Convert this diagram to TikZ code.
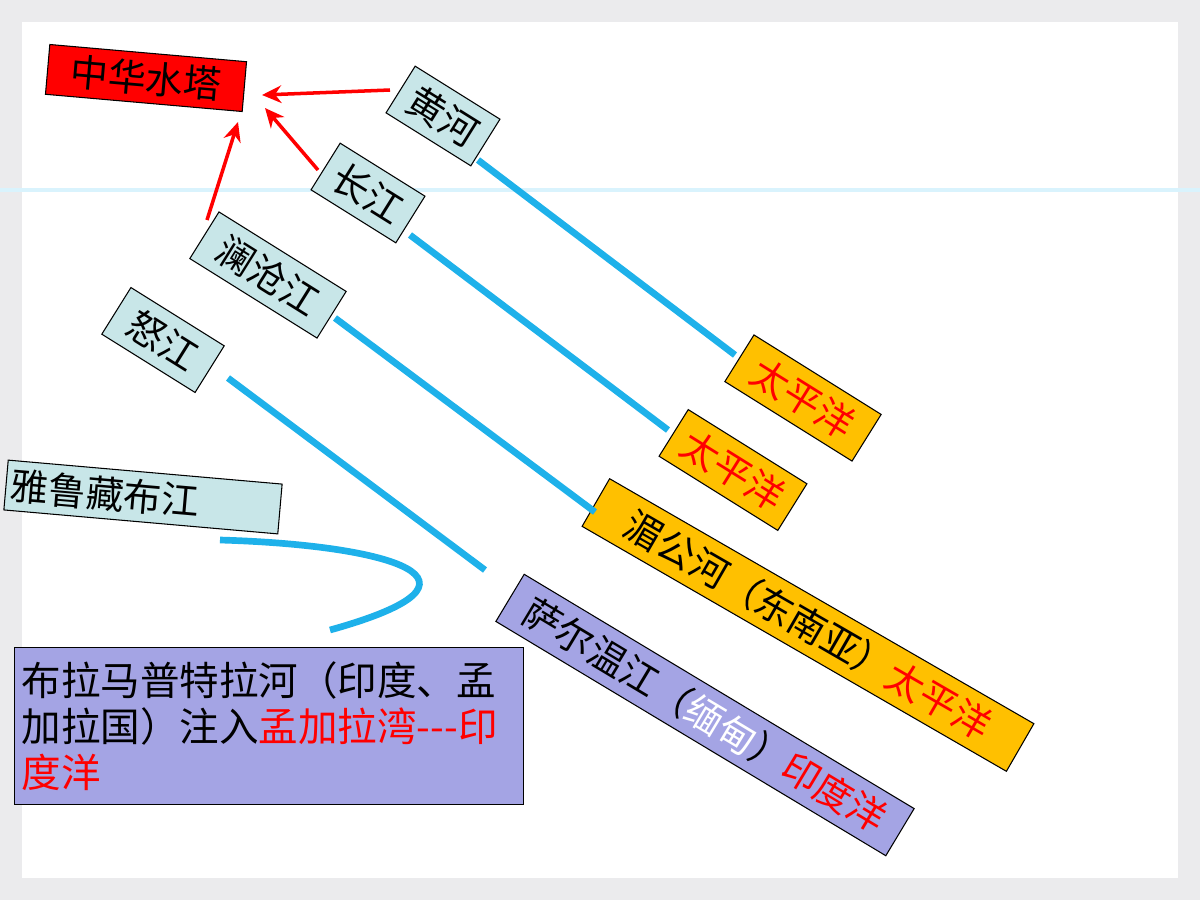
\documentclass[tikz,border=0pt]{standalone}
\usetikzlibrary{arrows.meta}
\usepackage{fontspec}
\newfontfamily\cjk{Noto Sans CJK SC}
\definecolor{riv}{HTML}{1EB1EA}
\definecolor{lc}{HTML}{C8E6E8}
\definecolor{lav}{HTML}{A4A4E4}
\definecolor{org}{HTML}{FFC000}
\begin{document}
\begin{tikzpicture}[x=0.02cm,y=-0.02cm,
  bb/.style={draw=black,line width=0.6pt,fill=lc,font=\cjk\fontsize{21.5}{24}\selectfont,minimum height=1.1cm,inner sep=1pt},
  rb/.style={bb,rotate=-32},
  ob/.style={rb,fill=org,text=red},
  pb/.style={rb,fill=lav},
  river/.style={line width=3.8pt,color=riv},
  rarr/.style={red,line width=2pt,-{Stealth[length=11pt,width=10pt]}}]
\useasboundingbox (0,0) rectangle (1200,900);
\fill[blue!5!gray!15] (0,0) rectangle (1200,900);
\fill[white] (22,22) rectangle (1178,878);
\draw[cyan!15,line width=2pt] (0,190) -- (1200,190);
\node[bb,fill=red,rotate=-5,minimum width=3.95cm,minimum height=1cm] (ta) at (146,78) {中华水塔};
\node[rb,minimum width=2cm] (hh) at (443,116) {黄河};
\node[rb,minimum width=2cm] (cj) at (368,193) {长江};
\node[rb,minimum width=3cm] (lc) at (268,275) {澜沧江};
\node[rb,minimum width=2.2cm] (nj) at (163,340) {怒江};
\node[bb,rotate=-5,minimum width=5.5cm,minimum height=1cm,text width=5.3cm,align=left] (yl) at (143,497) {雅鲁藏布江};
\node[ob,minimum width=3cm] (p1) at (803,398) {太平洋};
\node[ob,minimum width=2.8cm] (p2) at (733,470) {太平洋};
\node[ob,rotate=2,minimum width=9.8cm] (mg) at (808,625) {\textcolor{black}{湄公河（东南亚）}太平洋};
\node[pb,rotate=1,minimum width=9.1cm] (se) at (705,715) {\textcolor{black}{萨尔温江（}\textcolor{white}{缅甸}\textcolor{black}{）}\textcolor{red}{印度洋}};
\node[draw=black,fill=lav,minimum width=10.16cm,minimum height=3.14cm,text width=9.9cm,align=left,font=\cjk\fontsize{22.5}{26}\selectfont,inner sep=4pt] (bl) at (269,726) {布拉马普特拉河（印度、孟\\加拉国）注入\textcolor{red}{孟加拉湾---印}\\\textcolor{red}{度洋}};
\coordinate (y1) at (220,540);
\coordinate (y2) at (330,630);
\draw[river] (478,160) -- (735,355);
\draw[river] (410,235) -- (668,430);
\draw[river] (335,318) -- (595,512);
\draw[river] (228,378) -- (485,570);
\draw[river] (y1) .. controls (390,545) and (510,580) .. (y2);
\draw[rarr] (390,90) -- (262,95);
\draw[rarr] (318,170) -- (265,108);
\draw[rarr] (207,220) -- (238,122);
\end{tikzpicture}
\end{document}
